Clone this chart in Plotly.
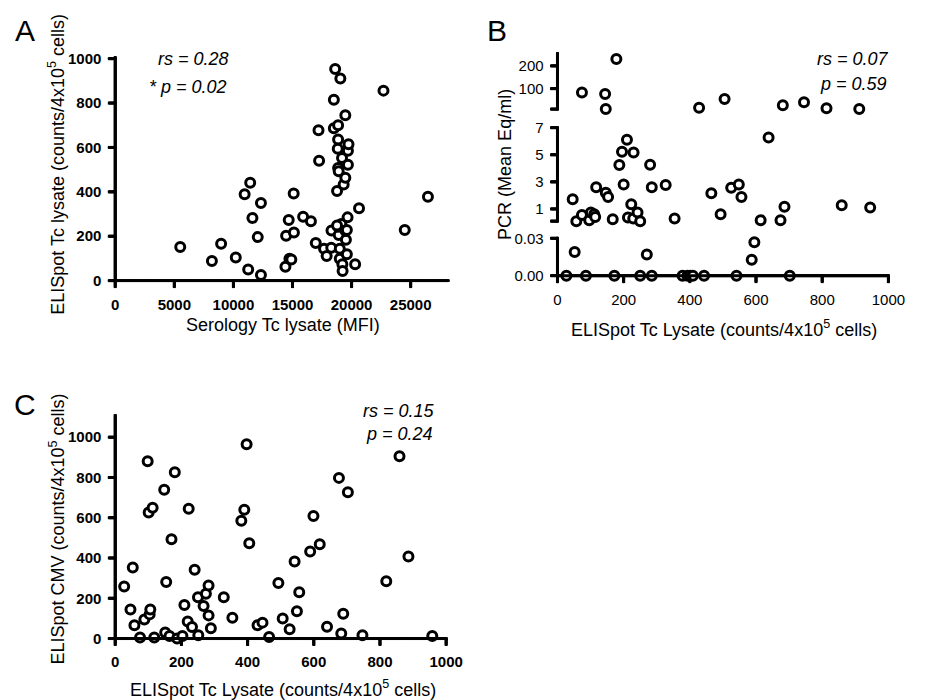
import plotly.graph_objects as go

W, H = 928, 700

# ---------------- Panel A data ----------------
a_serology = [5500, 8180, 8960, 10200, 10950, 11420, 11250, 11610, 12060, 12330, 12330,
              14400, 14460, 14680, 14740, 14900, 15120, 15100, 15900, 16560, 16970, 17200,
              17250, 17670, 17890, 18280, 18300, 18500, 18500, 18610, 18770, 18860, 18860,
              18910, 18860, 18830, 18910, 18860, 19050, 19000, 19130, 19000, 19220, 19240,
              19190, 19330, 19470, 19520, 19470, 19600, 19470, 19690, 19740, 19690, 19600,
              19660, 20300, 20630, 22700, 24500, 26460, 18770]
a_elispot = [151, 88, 166, 104, 389, 441, 50, 282, 196, 350, 25,
             62, 202, 273, 99, 95, 217, 393, 288, 267, 169, 678,
             540, 144, 111, 148, 226, 687, 815, 953, 404, 700, 507,
             493, 636, 594, 206, 243, 911, 144, 255, 99, 74, 43,
             552, 433, 463, 184, 226, 228, 745, 585, 614, 522, 119,
             285, 74, 326, 856, 228, 378, 248]
a_xticks = [0, 5000, 10000, 15000, 20000, 25000]
a_yticks = [0, 200, 400, 600, 800, 1000]

# ---------------- Panel B data (broken y axis) ----------------
b_top_x = [178, 74, 144, 146, 428, 505, 681, 745, 813, 912]
b_top_y = [230, 83, 76, 11, 16, 54, 27, 40, 14, 10]
b_mid_x = [46, 57, 74, 96, 101, 111, 114, 117, 146, 153, 167, 187, 195, 210, 200, 213,
           223, 230, 229, 242, 250, 280, 285, 327, 354, 465, 493, 525, 548, 556, 614,
           638, 674, 686, 859, 945]
b_mid_y = [1.71, 0.1, 0.56, 0.17, 0.73, 0.61, 0.41, 2.61, 2.2, 1.88, 0.24, 4.24, 5.22, 6.1,
           2.8, 0.37, 1.34, 5.17, 0.29, 0.73, 0.1, 4.27, 2.61, 2.76, 0.29, 2.15, 0.61,
           2.56, 2.8, 1.88, 0.17, 6.27, 0.17, 1.17, 1.27, 1.1]
b_low_x = [52, 270, 595, 587, 27, 86, 172, 250, 285, 378, 393, 401, 409, 443, 541, 702]
b_low_y = [0.0189, 0.017, 0.0268, 0.0127, 0, 0, 0, 0, 0, 0, 0, 0, 0, 0, 0, 0]
b_xticks = [0, 200, 400, 600, 800, 1000]
b_top_ticks = [10, 100, 200]
b_top_labels = ["", "100", "200"]
b_mid_ticks = [0.1, 1, 3, 5, 7]
b_mid_labels = ["", "1", "3", "5", "7"]
b_low_ticks = [0, 0.03]
b_low_labels = ["0.00", "0.03"]

# ---------------- Panel C data ----------------
c_tc = [27, 46, 53, 58, 75, 88, 98, 101, 104, 106, 113, 118, 148, 151, 154, 164, 170, 180,
        187, 203, 209, 219, 222, 232, 240, 250, 251, 267, 274, 282, 282, 289, 328, 354,
        381, 390, 397, 405, 430, 445, 465, 493, 506, 527, 542, 549, 556, 589, 599, 618,
        640, 676, 683, 689, 703, 747, 819, 859, 886, 958]
c_cmv = [259, 144, 353, 66, 5, 95, 880, 626, 120, 144, 650, 5, 739, 30, 281, 13, 493, 826,
         0, 13, 166, 84, 645, 57, 342, 205, 16, 161, 222, 263, 115, 51, 205, 103,
         585, 640, 965, 473, 66, 79, 8, 276, 100, 46, 383, 136, 230, 432, 609, 468,
         59, 798, 25, 123, 727, 16, 284, 905, 407, 13]
c_xticks = [0, 200, 400, 600, 800, 1000]
c_yticks = [0, 200, 400, 600, 800, 1000]

FONT = "Arial"
TICKLEN = 6
LW = 3
PAD = 9      # room between the axis line and the plot-area edge used for labels
EDGE = 3
STEP = 0.75  # pixel spacing of the dots that trace the axis lines

fig = go.Figure()
marker = dict(symbol="circle", size=9, color="white", line=dict(color="black", width=LW))


def x_geom(p0, p1, rng, pad_lo, pad_hi):
    u = (rng[1] - rng[0]) / (p1 - p0)
    return [(p0 - pad_lo) / W, (p1 + pad_hi) / W], [rng[0] - pad_lo * u, rng[1] + pad_hi * u], u


def y_geom(p_bottom, p_top, rng, pad_lo, pad_hi):
    u = (rng[1] - rng[0]) / (p_bottom - p_top)
    return ([1 - (p_bottom + pad_lo) / H, 1 - (p_top - pad_hi) / H],
            [rng[0] - pad_lo * u, rng[1] + pad_hi * u], u)


def axis(domain, rng, tickvals, ticktext, anchor, bold=True, size=15):
    if bold:
        ticktext = ["<b>%s</b>" % t if t else "" for t in ticktext]
    return dict(domain=domain, range=rng, tickmode="array", tickvals=tickvals,
                ticktext=ticktext, showline=False, ticks="outside", ticklen=1,
                tickcolor="rgba(0,0,0,0)", showgrid=False, zeroline=False, anchor=anchor,
                tickfont=dict(family=FONT, size=size, color="#000000",
                              weight="bold" if bold else "normal"))


def lab(vals):
    return [str(v) for v in vals]


# visual axis geometry (pixels) and data ranges
A_PX, A_X = (117, 455), [0, 28170]
A_PY, A_Y = (277, 52), [0, 1005]
B_PX, B_X = (566, 902), [0, 1000]
B_PTOP, B_TOP = (104, 48), [10, 254]
B_PMID, B_MID = (217, 122.7), [0.1, 7]
B_PLOW, B_LOW = (272, 234.3), [0, 0.03]
C_PX, C_X = (117, 453), [0, 1000]
C_PY, C_Y = (638, 413), [0, 1108]

ax_d, ax_r, ax_u = x_geom(*A_PX, A_X, PAD, EDGE)
ay_d, ay_r, ay_u = y_geom(*A_PY, A_Y, PAD, EDGE)
bx_d, bx_r, bx_u = x_geom(*B_PX, B_X, PAD, EDGE)
bt_d, bt_r, bt_u = y_geom(*B_PTOP, B_TOP, EDGE, EDGE)
bm_d, bm_r, bm_u = y_geom(*B_PMID, B_MID, EDGE, EDGE)
bl_d, bl_r, bl_u = y_geom(*B_PLOW, B_LOW, PAD, EDGE)
cx_d, cx_r, cx_u = x_geom(*C_PX, C_X, PAD, EDGE)
cy_d, cy_r, cy_u = y_geom(*C_PY, C_Y, PAD, EDGE)


def to_px(v, pix, rng):
    return pix[0] + (v - rng[0]) / (rng[1] - rng[0]) * (pix[1] - pix[0])


# ---- axis lines as filled rectangles (page pixels) ----
def bar(x0, y0, x1, y1):
    fig.add_shape(type="rect", xref="paper", yref="paper",
                  x0=min(x0, x1) / W, x1=max(x0, x1) / W,
                  y0=1 - max(y0, y1) / H, y1=1 - min(y0, y1) / H,
                  fillcolor="black", line=dict(width=0), layer="above")


h = LW / 2


def bars_x_axis(pix, rng, ticks, y_line):
    bar(pix[0] - h, y_line - h, pix[1] + h, y_line + h)
    for v in ticks:
        xp = to_px(v, pix, rng)
        bar(xp - h, y_line, xp + h, y_line + h + TICKLEN)


def bars_y_axis(pix, rng, ticks, x_line):
    bar(x_line - h, pix[0] + h, x_line + h, pix[1] - h)
    for v in ticks:
        yp = to_px(v, pix, rng)
        bar(x_line - h - TICKLEN, yp - h, x_line, yp + h)


bars_x_axis(A_PX, A_X, a_xticks, A_PY[0])
bars_y_axis(A_PY, A_Y, a_yticks, A_PX[0])
bars_x_axis(B_PX, B_X, b_xticks, B_PLOW[0])
bars_y_axis(B_PTOP, B_TOP, b_top_ticks, B_PX[0])
bars_y_axis(B_PMID, B_MID, b_mid_ticks, B_PX[0])
bars_y_axis(B_PLOW, B_LOW, b_low_ticks, B_PX[0])
bars_x_axis(C_PX, C_X, c_xticks, C_PY[0])
bars_y_axis(C_PY, C_Y, c_yticks, C_PX[0])


# ---- the same axis lines traced with small round dots in each subplot ----
def run(a, b, u):
    """Values from a to b spaced STEP pixels apart (u = data units per pixel)."""
    n = max(1, int(abs(b - a) / (STEP * u)))
    return [a + (b - a) * i / n for i in range(n + 1)]


dot = dict(symbol="circle", size=2, color="black", line=dict(color="black", width=1))


def dots(xs, ys, xa, ya):
    fig.add_trace(go.Scatter(x=xs, y=ys, mode="markers", marker=dot, xaxis=xa, yaxis=ya,
                             cliponaxis=False, showlegend=False, hoverinfo="skip"))


def dots_x_axis(xa, ya, rng, ticks, xu, yu):
    xs = run(rng[0], rng[1], xu)
    ys = [0] * len(xs)
    for v in ticks:
        t = run(0, -TICKLEN * yu, yu)
        xs += [v] * len(t)
        ys += t
    dots(xs, ys, xa, ya)


def dots_y_axis(xa, ya, rng, ticks, xu, yu):
    ys = run(rng[0], rng[1], yu)
    xs = [0] * len(ys)
    for v in ticks:
        t = run(0, -TICKLEN * xu, xu)
        ys += [v] * len(t)
        xs += t
    dots(xs, ys, xa, ya)


dots_x_axis("x", "y", A_X, a_xticks, ax_u, ay_u)
dots_y_axis("x", "y", A_Y, a_yticks, ax_u, ay_u)
dots_x_axis("x2", "y4", B_X, b_xticks, bx_u, bl_u)
dots_y_axis("x2", "y2", B_TOP, b_top_ticks, bx_u, bt_u)
dots_y_axis("x2", "y3", B_MID, b_mid_ticks, bx_u, bm_u)
dots_y_axis("x2", "y4", B_LOW, b_low_ticks, bx_u, bl_u)
dots_x_axis("x3", "y5", C_X, c_xticks, cx_u, cy_u)
dots_y_axis("x3", "y5", C_Y, c_yticks, cx_u, cy_u)


# ---- data points ----
def scatter(x, y, xa, ya):
    fig.add_trace(go.Scatter(x=x, y=y, mode="markers", marker=marker, xaxis=xa, yaxis=ya,
                             cliponaxis=False, showlegend=False, hoverinfo="skip"))


scatter(a_serology, a_elispot, "x", "y")
scatter(b_top_x, b_top_y, "x2", "y2")
scatter(b_mid_x, b_mid_y, "x2", "y3")
scatter(b_low_x, b_low_y, "x2", "y4")
scatter(c_tc, c_cmv, "x3", "y5")

fig.update_layout(
    width=W, height=H, margin=dict(l=0, r=0, t=0, b=0),
    paper_bgcolor="white", plot_bgcolor="rgba(0,0,0,0)",
    xaxis=axis(ax_d, ax_r, a_xticks, lab(a_xticks), "y"),
    yaxis=axis(ay_d, ay_r, a_yticks, lab(a_yticks), "x"),
    xaxis2=axis(bx_d, bx_r, b_xticks, lab(b_xticks), "y4", bold=False),
    yaxis2=axis(bt_d, bt_r, b_top_ticks, b_top_labels, "x2", bold=False),
    yaxis3=axis(bm_d, bm_r, b_mid_ticks, b_mid_labels, "x2", bold=False),
    yaxis4=axis(bl_d, bl_r, b_low_ticks, b_low_labels, "x2", bold=False),
    xaxis3=axis(cx_d, cx_r, c_xticks, lab(c_xticks), "y5"),
    yaxis5=axis(cy_d, cy_r, c_yticks, lab(c_yticks), "x3"),
)


def ann(text, x, y, size=18, angle=0, xanchor="center"):
    fig.add_annotation(text=text, x=x / W, y=1 - y / H, xref="paper", yref="paper",
                       showarrow=False, textangle=angle, xanchor=xanchor, yanchor="middle",
                       font=dict(family=FONT, size=size, color="#000000"))


# panel letters
ann("A", 25, 25, size=30)
ann("B", 505, 25, size=30)
ann("C", 25, 402, size=30)

# axis titles
ann("ELISpot Tc lysate (counts/4x10<sup>5</sup> cells)", 58, 160, angle=-90)
ann("Serology Tc lysate (MFI)", 287, 322)
ann("PCR (Mean Eq/ml)", 512, 160, angle=-90)
ann("ELISpot Tc Lysate (counts/4x10<sup>5</sup> cells)", 735, 325)
ann("ELISpot CMV (counts/4x10<sup>5</sup> cells)", 58, 528, angle=-90)
ann("ELISpot Tc Lysate (counts/4x10<sup>5</sup> cells)", 287, 688)

# statistics
ann("<i>rs = 0.28</i>", 235, 53, xanchor="right")
ann("<i>* p = 0.02</i>", 233, 82, xanchor="right")
ann("<i>rs = 0.07</i>", 905, 53, xanchor="right")
ann("<i>p = 0.59</i>", 903, 79, xanchor="right")
ann("<i>rs = 0.15</i>", 444, 408, xanchor="right")
ann("<i>p = 0.24</i>", 442, 432, xanchor="right")

fig.write_html("out.html", config={"displayModeBar": False},
               post_script="document.body.style.margin='0px';")
